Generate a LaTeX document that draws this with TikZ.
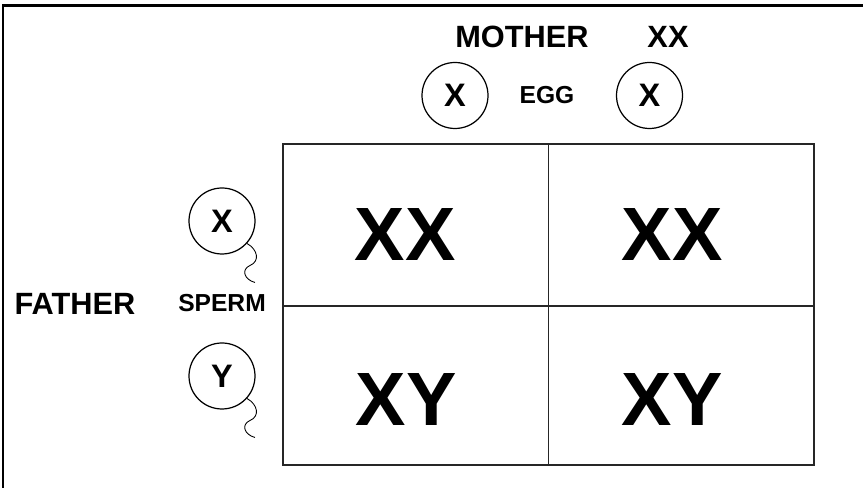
\documentclass[tikz,border=0pt]{standalone}
\usepackage{fontspec}
\setmainfont{Liberation Sans}

\begin{document}
\begin{tikzpicture}[
		gamete/.style={draw, circle, line width=0.7pt, minimum size=1.32cm, inner sep=0pt,
			font=\bfseries\fontsize{18.5}{18.5}\selectfont},
		genotype/.style={font=\bfseries\fontsize{43}{43}\selectfont},
		parent/.style={font=\bfseries\fontsize{17.5}{17.5}\selectfont},
		celltype/.style={font=\bfseries\fontsize{14}{14}\selectfont},
		tail/.style={line width=0.5pt}
	]
		\useasboundingbox (0, 0) rectangle (17.26, 9.76);
		\draw[line width=1.7pt] (0.06, 0) -- (0.06, 9.64) -- (17.26, 9.64);
		
		% punnett square
		\draw[line width=1.1pt, black!85] (5.66, 0.46) rectangle (16.28, 6.88);
		\draw[line width=1.1pt, black!85] (10.97, 0.46) -- (10.97, 6.88);
		\draw[line width=1.1pt, black!85] (5.66, 3.64) -- (16.28, 3.64);
		
		\node[parent] (mother) at (10.44, 9.02) {MOTHER};
		\node[parent] (mothertype) at (13.36, 9.02) {XX};
		\node[gamete] (egga) at (9.10, 7.85) {X};
		\node[celltype] (egg) at (10.94, 7.86) {EGG};
		\node[gamete] (eggb) at (12.99, 7.85) {X};
		
		\node[parent] (father) at (1.50, 3.68) {FATHER};
		\node[celltype] (sperm) at (4.44, 3.70) {SPERM};
		\node[gamete] (spermx) at (4.44, 5.34) {X};
		\node[gamete] (spermy) at (4.44, 2.24) {Y};
		
		\foreach \s in {spermx, spermy}
			\draw[tail, shift={(\s.-42)}] (0, 0) .. controls (0.22, -0.12) and (0.26, -0.36) .. (0.06, -0.44)
				.. controls (-0.12, -0.52) and (-0.06, -0.72) .. (0.16, -0.78);
		
		\node[genotype] (xxa) at (8.10, 5.06) {XX};
		\node[genotype] (xxb) at (13.44, 5.06) {XX};
		\node[genotype] (xya) at (8.12, 1.76) {XY};
		\node[genotype] (xyb) at (13.44, 1.76) {XY};
	\end{tikzpicture}
\end{document}
